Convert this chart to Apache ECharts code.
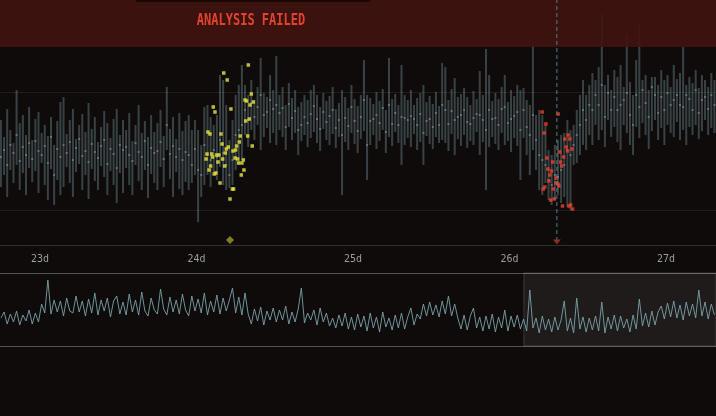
<!DOCTYPE html>
<html><head><meta charset="utf-8">
<script src="https://cdn.jsdelivr.net/npm/echarts@6/dist/echarts.min.js"></script>
<style>html,body{margin:0;padding:0;background:#0f0b0b;}#c{width:716px;height:416px;}</style>
</head><body><div id="c"></div><script>
// time axis (days) — samples every 0.02 day
const START_DAY = 22.75, STEP_DAY = 0.02;
const dayTicks = [23, 24, 25, 26, 27];

// range bars: low / high / marker value per sample
const barLow = [
 58,70,48,75,62,80,55,72,50,77, 63,74,52,82,60,45,76,40,65,50,
 58,78,62,48,73,81,55,70,46,76, 64,55,79,68,50,74,60,42,72,52,
 77,60,50,80,64,55,75,47,71,62, 55,78,58,95,66,48,73,56,50,63,
 55,62,70,23,48,60,70,58,72,65,78,60,55,57,60,75,80,85,
 110,98,115,105,120,95,108,117,102,112, 100,115,108,95,118,105,112,90,104,110,
 98,107,113,102,94,116,105,100,111,97, 108,50,103,95,112,101,92,106,114,65,
 100,110,96,104,115,92,108,99,113,102, 80,100,107,98,111,95,103,80,109,101,
 96,108,102,105,102,94,111,90,106,99, 110,97,104,100,113,90,103,55,98,108,
 101,95,112,100,104,93,107,99,65,107,90,
 70,95,75,55,50,62,45,40,45,50,42,48,38,35,80,82,90,100,
 95,110,100,120,105,115,98,125,108,118, 103,95,120,112,100,90,118,107,122,110,
 96,114,125,105,117,100,120,112,108,123, 105,115,100,118,110,120,106,114,125,110,
 117,112
];
const barHigh = [
 125,108,136,115,102,155,122,130,110,138, 105,126,133,112,120,109,128,100,124,143,
 148,111,125,136,106,120,131,113,142,116, 128,103,118,134,122,107,126,136,110,125,
 115,132,104,120,140,112,124,108,130,113, 122,135,109,158,116,128,106,132,114,124,
 130,115,125,115,100,138,140,128,120,130,170,165,140,105,125,150,160,180,
 160,150,165,145,158,187,152,148,170,155, 189,150,158,140,162,147,155,138,143,150,
 145,155,160,150,138,152,144,149,158,136, 142,155,148,137,160,146,139,150,185,150,
 147,141,153,144,156,135,187,146,151,140, 180,150,145,155,140,147,152,160,143,149,
 141,153,139,182,178,145,156,167,148,151, 157,148,140,154,146,174,150,196,170,144,
 152,146,158,170,143,155,149,160,155,157,145,
 140,200,130,135,130,120,95,90,100,105,110,112,125,115,120,135,150,165,
 150,160,172,165,178,231,160,170,155,175, 168,180,158,210,163,150,185,222,165,170,
 155,168,168,160,175,165,170,158,180,166, 172,198,160,168,162,175,157,170,165,158,
 172,165
];
const barMark = [
 88,95,80,100,92,110,84,98,90,102, 86,104,94,90,99,82,108,70,96,88,
 100,92,103,85,97,106,89,94,83,101, 93,87,99,105,81,96,91,77,100,95,
 98,90,84,102,93,88,104,80,97,92, 94,103,86,120,91,99,88,96,85,93,
 90,80,96,75,70,100,90,85,95,88,105,92,80,70,85,110,115,120,
 135,125,142,128,138,150,130,133,145,136, 140,132,137,118,141,127,134,115,120,128,
 122,131,139,126,116,133,123,129,135,117, 125,110,127,119,138,124,114,128,145,100,
 124,126,130,122,137,113,140,121,132,120, 128,127,125,129,126,120,131,112,124,126,
 118,132,120,140,135,121,134,125,128,130, 135,123,121,127,131,130,125,115,135,126,
 127,120,136,138,122,126,129,133,115,135,118,
 110,130,105,90,85,80,65,60,70,68,75,80,95,90,100,110,120,135,
 125,140,135,150,140,160,128,152,135,148, 135,140,145,152,130,120,150,138,155,142,
 128,158,150,132,148,135,152,140,145,150, 140,138,150,146,135,155,132,145,148,136,
 150,140
];

// overview (slider) signal, same sampling
const overviewValues = [
 28,34,22,32,24,35,21,31,25,36,22,33,24,
 42,33,66,32,46,34,45,30,48,35, 33,50,34,45,30,47,33,53,31,46,
 35,48,29,45,50,32,44,31,52,34, 46,31,54,35,30,48,36,32,57,37,
 31,49,34,46,32,52,36,30,50,35, 47,33,53,31,45,34,51,32,48,35,
 46,58,33,49,31,53,
 32,22,37,25,39,21,35,26,38,24, 36,26,40,22,34,24,37,58,23,33, 26,36,21,38,24,33,20,
 28,18,31,20,33,17,29,16,32,19, 30,15,33,18,29,14,34,19,28,16, 31,18,33,17,29,38,21,32,27,
 42,30,44,31,41,29,45,32,50,30,42,
 28,17,31,16,30,38,18,29,15,30, 17,32,14,29,18,36,15,30,19,31,17,
 27,15,56,18,28,13,30,16,27,14, 29,16,26,45,15,28,13,48,17,29,
 14,28,16,30,15,44,13,29,17,31, 15,30,18,27,14,31,17,47,20,33, 19,35,21,34,
 40,27,43,29,45,28,41,26,44,30, 42,28,56,30,44,27,42,31
];

// anomaly points
const yellowX = [24.331,24.174,24.196,24.350,24.310,24.320,24.363,24.342,24.107,24.220,24.118,24.337,24.314,24.073,24.086,24.156,24.279,24.327,24.273,24.163,24.356,24.203,24.256,24.190,24.233,24.250,24.067,24.097,24.129,24.143,24.184,24.103,24.246,24.263,24.167,24.299,24.061,24.137,24.269,24.290,24.180,24.090,24.080,24.303,24.124,24.113,24.286,24.150,24.229,24.237,24.214];
const yellowY = [180,172,165,151,145,144,143,140,138,136,133,126,124,113,111,111,109,109,103,101,99,98,99,96,94,95,91,91,90,90,92,88,87,86,86,85,86,83,82,82,79,79,75,75,72,71,70,62,56,56,46];
const redX = [26.209,26.311,26.233,26.222,26.375,26.354,26.386,26.363,26.322,26.399,26.371,26.346,26.239,26.276,26.327,26.333,26.246,26.269,26.258,26.299,26.252,26.297,26.311,26.316,26.279,26.216,26.226,26.263,26.286,26.339,26.380,26.391,26.403];
const redY = [133,131,121,112,110,106,106,98,93,96,94,88,87,83,83,79,76,74,70,67,64,62,61,59,56,56,58,45,46,39,39,40,36];

const failureDay = 26.303;
const eventDays = [24.214, 26.303];
const gridLevels = [35, 153];
const zoomWindow = [26.092, 27.32];

const X_MIN = 22.744, X_MAX = 27.32;

const barData = barLow.map((lo, i) => [START_DAY + STEP_DAY * i, lo, barHigh[i], barMark[i]]);
const overviewData = overviewValues.map((v, i) => [START_DAY + STEP_DAY * i, v]);
const yellowData = yellowX.map((x, i) => [x, yellowY[i]]);
const redData = redX.map((x, i) => [x, redY[i]]);

const chart = echarts.init(document.getElementById('c'), null, {renderer: 'canvas'});
chart.setOption({
  backgroundColor: '#0f0b0b',
  animation: false,
  grid: [
    {left: 0, right: 0, top: 0, height: 245},
    {left: 0, right: 0, top: 273, height: 73}
  ],
  xAxis: [
    {type: 'value', gridIndex: 0, min: X_MIN, max: X_MAX,
     axisLine: {show: true, lineStyle: {color: '#332e2e', width: 1}},
     axisTick: {show: false}, splitLine: {show: false},
     axisLabel: {customValues: dayTicks, formatter: v => v + 'd', color: '#9a9a9a',
                 fontFamily: 'DejaVu Sans Mono', fontSize: 10, margin: 9}},
    {type: 'value', gridIndex: 1, min: X_MIN, max: X_MAX, show: false}
  ],
  yAxis: [
    {type: 'value', gridIndex: 0, min: 0, max: 245, show: false},
    {type: 'value', gridIndex: 1, min: 0, max: 73, interval: 73,
     axisLine: {show: false}, axisTick: {show: false}, axisLabel: {show: false},
     splitLine: {show: true, lineStyle: {color: '#575252', width: 1}}}
  ],
  graphic: [
    {type: 'rect', z: 10, shape: {x: 0, y: 0, width: 716, height: 47},
     style: {fill: 'rgba(64,19,14,0.9)'}},
    {type: 'rect', z: 11, shape: {x: 135, y: -6, width: 236, height: 8, r: 3},
     style: {fill: 'rgba(20,8,6,0.8)'}},
    {type: 'text', z: 30, x: 251, y: 21, scaleX: 0.8,
     style: {text: 'ANALYSIS FAILED', fill: '#e2432f', font: 'bold 15px "DejaVu Sans Mono"',
             textAlign: 'center', textVerticalAlign: 'middle'}}
  ],
  series: [
    {
      type: 'custom', xAxisIndex: 0, yAxisIndex: 0, z: 2,
      data: barData,
      renderItem: function (params, api) {
        const x = api.value(0);
        const lo = api.coord([x, api.value(1)]);
        const hi = api.coord([x, api.value(2)]);
        const mk = api.coord([x, api.value(3)]);
        return {type: 'group', children: [
          {type: 'rect', shape: {x: lo[0] - 1, y: hi[1], width: 2, height: lo[1] - hi[1]},
           style: {fill: 'rgba(86,106,112,0.58)'}},
          {type: 'rect', shape: {x: mk[0] - 1, y: mk[1] - 1, width: 2, height: 2},
           style: {fill: 'rgba(125,150,156,0.6)'}}
        ]};
      },
      markLine: {silent: true, symbol: 'none', label: {show: false},
        lineStyle: {color: 'rgba(255,255,255,0.07)', type: 'solid', width: 1},
        data: gridLevels.map(v => ({yAxis: v}))}
    },
    {type: 'scatter', xAxisIndex: 0, yAxisIndex: 0, z: 5, data: yellowData,
     symbol: 'rect', symbolSize: 3.5, itemStyle: {color: '#e6e639'}},
    {type: 'scatter', xAxisIndex: 0, yAxisIndex: 0, z: 5, data: redData,
     symbol: 'rect', symbolSize: 3.5, itemStyle: {color: '#e8412d'}},
    {type: 'line', xAxisIndex: 0, yAxisIndex: 0, z: 20, symbol: 'none',
     data: [[failureDay, 4], [failureDay, 245]],
     lineStyle: {color: 'rgba(70,150,160,0.85)', type: [4, 3], width: 1}},
    {type: 'scatter', xAxisIndex: 0, yAxisIndex: 0, z: 21,
     data: [
       {value: [eventDays[0], 5], symbol: 'diamond', symbolSize: 8, itemStyle: {color: '#9d9d22'}},
       {value: [eventDays[1], 3], symbol: 'triangle', symbolRotate: 180, symbolSize: [8, 5], itemStyle: {color: '#a83524'}}
     ]},
    {type: 'line', xAxisIndex: 1, yAxisIndex: 1, symbol: 'none', z: 3,
     data: overviewData,
     lineStyle: {color: 'rgba(122,162,168,0.9)', width: 1},
     markArea: {silent: true,
       itemStyle: {color: 'rgba(255,255,255,0.065)', borderColor: 'rgba(255,255,255,0.16)', borderWidth: 1},
       label: {show: true, position: 'insideBottomLeft', formatter: 'Zoom: 25%', color: '#6e6969',
               fontFamily: 'DejaVu Sans Mono', fontSize: 7.5, distance: [8, 3]},
       data: [[{xAxis: zoomWindow[0]}, {xAxis: zoomWindow[1]}]]}}
  ]
});
</script></body></html>
